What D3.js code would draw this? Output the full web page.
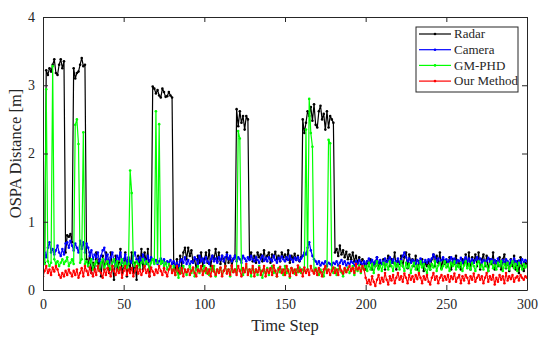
<!DOCTYPE html>
<html>
<head>
<meta charset="utf-8">
<script src="https://cdn.jsdelivr.net/npm/d3@7"></script>
<style>
  body { margin: 0; background: #fff; }
  text { font-family: "Liberation Serif", "DejaVu Serif", serif; fill: #262626; }
</style>
</head>
<body>
<div id="chart"></div>
<script>
// series values, one per time step 0..300
var radar = [
  0.45, 0.40, 3.22, 3.15, 3.25, 3.20, 3.30, 3.38, 3.18, 3.15,
  3.30, 3.38, 3.25, 3.35, 0.55, 0.80, 0.78, 0.82, 0.70, 3.25,
  3.10, 3.18, 3.20, 3.30, 3.40, 3.28, 3.30, 0.45, 0.35, 0.55,
  0.25, 0.40, 0.30, 0.55, 0.35, 0.45, 0.20, 0.50, 0.30, 0.55,
  0.40, 0.25, 0.55, 0.35, 0.15, 0.50, 0.30, 0.40, 0.60, 0.25,
  0.35, 0.55, 0.20, 0.45, 0.30, 0.55, 0.25, 0.40, 0.15, 0.50,
  0.35, 0.60, 0.30, 0.55, 0.40, 0.60, 0.20, 0.45, 2.98, 2.95,
  2.88, 2.93, 2.85, 2.82, 2.95, 2.90, 2.83, 2.84, 2.90, 2.85,
  2.82, 0.40, 0.30, 0.45, 0.25, 0.50, 0.35, 0.55, 0.62, 0.45,
  0.62, 0.50, 0.58, 0.40, 0.45, 0.30, 0.50, 0.40, 0.55, 0.35,
  0.45, 0.55, 0.40, 0.58, 0.35, 0.50, 0.45, 0.60, 0.42, 0.55,
  0.38, 0.50, 0.45, 0.35, 0.55, 0.40, 0.48, 0.35, 0.45, 0.50,
  2.65, 2.40, 2.62, 2.45, 2.55, 2.35, 2.55, 2.50, 0.45, 0.55,
  0.42, 0.50, 0.40, 0.55, 0.48, 0.52, 0.42, 0.58, 0.45, 0.50,
  0.55, 0.40, 0.52, 0.48, 0.56, 0.45, 0.50, 0.42, 0.55, 0.48,
  0.52, 0.45, 0.58, 0.40, 0.50, 0.46, 0.53, 0.44, 0.50, 0.42,
  0.48, 2.50, 2.30, 2.45, 2.62, 2.55, 2.68, 2.48, 2.72, 2.42,
  2.38, 2.62, 2.70, 2.50, 2.58, 2.35, 2.62, 2.38, 2.55, 2.50,
  2.45, 0.55, 0.60, 0.50, 0.65, 0.52, 0.58, 0.48, 0.56, 0.45,
  0.52, 0.45, 0.55, 0.42, 0.50, 0.40, 0.48, 0.38, 0.45, 0.40,
  0.30, 0.42, 0.35, 0.45, 0.30, 0.40, 0.35, 0.48, 0.32, 0.40,
  0.38, 0.45, 0.30, 0.42, 0.50, 0.35, 0.45, 0.40, 0.55, 0.30,
  0.42, 0.38, 0.50, 0.35, 0.48, 0.55, 0.32, 0.52, 0.40, 0.45,
  0.35, 0.50, 0.30, 0.42, 0.38, 0.45, 0.28, 0.40, 0.35, 0.42,
  0.30, 0.45, 0.52, 0.35, 0.50, 0.40, 0.55, 0.32, 0.45, 0.38,
  0.42, 0.35, 0.48, 0.30, 0.45, 0.38, 0.50, 0.35, 0.42, 0.30,
  0.45, 0.38, 0.52, 0.35, 0.55, 0.30, 0.48, 0.40, 0.52, 0.35,
  0.55, 0.30, 0.45, 0.52, 0.35, 0.50, 0.28, 0.45, 0.38, 0.55,
  0.30, 0.42, 0.35, 0.48, 0.30, 0.45, 0.52, 0.32, 0.40, 0.28,
  0.45, 0.35, 0.50, 0.30, 0.42, 0.25, 0.48, 0.35, 0.28, 0.40,
  0.38
];
var camera = [
  0.50, 0.55, 0.48, 0.62, 0.70, 0.55, 0.60, 0.52, 0.58, 0.65,
  0.55, 0.50, 0.60, 0.52, 0.68, 0.70, 0.62, 0.72, 0.65, 0.58,
  0.68, 0.62, 0.55, 0.72, 0.60, 0.70, 0.55, 0.68, 0.62, 0.50,
  0.58, 0.45, 0.52, 0.48, 0.55, 0.42, 0.50, 0.58, 0.62, 0.45,
  0.52, 0.40, 0.48, 0.55, 0.42, 0.38, 0.50, 0.45, 0.55, 0.40,
  0.45, 0.52, 0.38, 0.48, 0.42, 0.40, 0.50, 0.55, 0.45, 0.42,
  0.48, 0.40, 0.52, 0.45, 0.38, 0.50, 0.42, 0.48, 0.45, 0.40,
  0.44, 0.38, 0.42, 0.46, 0.40, 0.45, 0.38, 0.42, 0.40, 0.44,
  0.38, 0.42, 0.36, 0.40, 0.35, 0.42, 0.45, 0.40, 0.48, 0.38,
  0.44, 0.36, 0.42, 0.40, 0.48, 0.45, 0.38, 0.50, 0.42, 0.46,
  0.40, 0.48, 0.42, 0.38, 0.45, 0.50, 0.42, 0.46, 0.40, 0.48,
  0.44, 0.50, 0.42, 0.48, 0.52, 0.45, 0.50, 0.42, 0.46, 0.50,
  0.42, 0.48, 0.45, 0.40, 0.50, 0.46, 0.42, 0.48, 0.44, 0.50,
  0.45, 0.42, 0.48, 0.44, 0.40, 0.46, 0.50, 0.43, 0.47, 0.42,
  0.48, 0.45, 0.42, 0.50, 0.44, 0.40, 0.47, 0.43, 0.49, 0.45,
  0.42, 0.48, 0.44, 0.50, 0.45, 0.41, 0.47, 0.44, 0.48, 0.43,
  0.46, 0.50, 0.55, 0.52, 0.62, 0.70, 0.58, 0.50, 0.45, 0.42,
  0.38, 0.42, 0.36, 0.40, 0.38, 0.42, 0.35, 0.40, 0.38, 0.36,
  0.40, 0.38, 0.42, 0.36, 0.40, 0.44, 0.38, 0.42, 0.36, 0.40,
  0.38, 0.42, 0.40, 0.36, 0.42, 0.38, 0.44, 0.40, 0.37, 0.42,
  0.38, 0.42, 0.46, 0.40, 0.44, 0.38, 0.42, 0.48, 0.40, 0.44,
  0.38, 0.42, 0.46, 0.40, 0.44, 0.48, 0.40, 0.45, 0.38, 0.42,
  0.46, 0.40, 0.44, 0.50, 0.55, 0.48, 0.42, 0.46, 0.40, 0.44,
  0.42, 0.38, 0.44, 0.40, 0.46, 0.42, 0.38, 0.44, 0.40, 0.45,
  0.42, 0.46, 0.52, 0.48, 0.42, 0.46, 0.40, 0.44, 0.48, 0.42,
  0.45, 0.40, 0.44, 0.48, 0.42, 0.46, 0.40, 0.44, 0.42, 0.47,
  0.40, 0.44, 0.48, 0.42, 0.46, 0.41, 0.45, 0.40, 0.44, 0.48,
  0.42, 0.46, 0.40, 0.44, 0.38, 0.43, 0.47, 0.41, 0.45, 0.40,
  0.44, 0.40, 0.46, 0.42, 0.38, 0.44, 0.40, 0.45, 0.42, 0.38,
  0.44, 0.40, 0.46, 0.42, 0.38, 0.43, 0.40, 0.45, 0.41, 0.44,
  0.42
];
var gmphd = [
  0.40, 0.38, 2.94, 0.42, 0.35, 0.40, 3.28, 0.45, 0.38, 0.42,
  0.35, 0.40, 0.45, 0.38, 0.42, 0.48, 0.35, 0.40, 0.45, 0.38,
  2.42, 2.50, 2.14, 0.40, 0.45, 2.31, 0.38, 0.42, 0.35, 0.40,
  0.45, 0.30, 0.38, 0.42, 0.35, 0.28, 0.40, 0.45, 0.32, 0.38,
  0.42, 0.35, 0.30, 0.40, 0.45, 0.35, 0.42, 0.30, 0.38, 0.45,
  0.35, 0.40, 0.32, 0.38, 1.75, 1.42, 0.40, 0.35, 0.42, 0.38,
  0.32, 0.40, 0.45, 0.35, 0.42, 0.38, 0.30, 0.40, 0.45, 0.38,
  2.62, 0.40, 2.43, 0.38, 0.42, 0.35, 0.40, 0.30, 0.38, 0.35,
  0.28, 0.35, 0.22, 0.30, 0.18, 0.32, 0.25, 0.35, 0.28, 0.22,
  0.30, 0.35, 0.25, 0.32, 0.20, 0.30, 0.35, 0.25, 0.32, 0.28,
  0.35, 0.25, 0.30, 0.22, 0.32, 0.28, 0.35, 0.20, 0.30, 0.26,
  0.32, 0.22, 0.28, 0.35, 0.25, 0.30, 0.20, 0.32, 0.27, 0.30,
  0.25, 2.33, 2.22, 0.30, 0.22, 0.28, 0.35, 0.25, 0.30, 0.20,
  0.32, 0.26, 0.30, 0.22, 0.35, 0.28, 0.18, 0.30, 0.25, 0.32,
  0.22, 0.30, 0.35, 0.25, 0.28, 0.20, 0.32, 0.26, 0.30, 0.22,
  0.35, 0.25, 0.30, 0.18, 0.32, 0.28, 0.24, 0.30, 0.26, 0.33,
  0.25, 0.30, 0.28, 2.35, 0.30, 2.80, 2.30, 2.10, 0.25, 0.32,
  0.28, 0.22, 0.30, 0.26, 0.20, 0.32, 0.28, 2.20, 2.15, 0.30,
  0.25, 0.32, 0.22, 0.30, 0.35, 0.26, 0.20, 0.30, 0.28, 0.33,
  0.25, 0.30, 0.35, 0.22, 0.32, 0.28, 0.36, 0.25, 0.33, 0.30,
  0.35, 0.28, 0.40, 0.30, 0.38, 0.25, 0.35, 0.42, 0.30, 0.36,
  0.28, 0.40, 0.33, 0.38, 0.30, 0.42, 0.35, 0.28, 0.40, 0.34,
  0.38, 0.30, 0.42, 0.35, 0.28, 0.40, 0.33, 0.38, 0.25, 0.35,
  0.40, 0.30, 0.36, 0.28, 0.42, 0.33, 0.38, 0.30, 0.25, 0.35,
  0.30, 0.38, 0.33, 0.42, 0.28, 0.36, 0.40, 0.30, 0.35, 0.42,
  0.33, 0.38, 0.28, 0.40, 0.35, 0.42, 0.30, 0.37, 0.33, 0.40,
  0.28, 0.36, 0.42, 0.32, 0.38, 0.30, 0.40, 0.35, 0.28, 0.38,
  0.42, 0.33, 0.37, 0.30, 0.40, 0.35, 0.28, 0.38, 0.42, 0.32,
  0.36, 0.30, 0.40, 0.35, 0.42, 0.28, 0.38, 0.33, 0.40, 0.30,
  0.36, 0.42, 0.32, 0.38, 0.28, 0.40, 0.35, 0.30, 0.38, 0.33,
  0.36
];
var ourMethod = [
  0.20, 0.28, 0.35, 0.25, 0.30, 0.22, 0.33, 0.27, 0.35, 0.30,
  0.22, 0.18, 0.25, 0.20, 0.28, 0.22, 0.30, 0.25, 0.20, 0.28,
  0.22, 0.30, 0.18, 0.25, 0.32, 0.20, 0.35, 0.28, 0.22, 0.33,
  0.25, 0.20, 0.30, 0.22, 0.35, 0.28, 0.25, 0.18, 0.30, 0.22,
  0.32, 0.26, 0.20, 0.35, 0.28, 0.22, 0.30, 0.25, 0.33, 0.18,
  0.28, 0.35, 0.22, 0.30, 0.25, 0.32, 0.20, 0.28, 0.35, 0.24,
  0.30, 0.22, 0.28, 0.35, 0.25, 0.30, 0.20, 0.33, 0.27, 0.22,
  0.30, 0.25, 0.35, 0.28, 0.22, 0.32, 0.26, 0.20, 0.30, 0.35,
  0.25, 0.30, 0.22, 0.35, 0.28, 0.24, 0.32, 0.20, 0.30, 0.26,
  0.30, 0.22, 0.28, 0.33, 0.25, 0.20, 0.30, 0.27, 0.35, 0.22,
  0.28, 0.32, 0.24, 0.30, 0.20, 0.35, 0.27, 0.22, 0.30, 0.25,
  0.33, 0.20, 0.28, 0.35, 0.24, 0.30, 0.22, 0.36, 0.26, 0.30,
  0.22, 0.35, 0.28, 0.20, 0.32, 0.26, 0.38, 0.22, 0.30, 0.25,
  0.35, 0.20, 0.30, 0.26, 0.33, 0.22, 0.28, 0.35, 0.20, 0.30,
  0.25, 0.32, 0.22, 0.36, 0.28, 0.20, 0.30, 0.34, 0.25, 0.30,
  0.22, 0.35, 0.28, 0.20, 0.32, 0.25, 0.30, 0.22, 0.36, 0.27,
  0.30, 0.20, 0.33, 0.25, 0.30, 0.22, 0.35, 0.28, 0.24, 0.30,
  0.22, 0.32, 0.26, 0.20, 0.30, 0.35, 0.25, 0.30, 0.22, 0.28,
  0.33, 0.25, 0.30, 0.22, 0.35, 0.28, 0.24, 0.32, 0.26, 0.30,
  0.35, 0.28, 0.32, 0.25, 0.38, 0.30, 0.33, 0.27, 0.35, 0.30,
  0.18, 0.10, 0.15, 0.08, 0.20, 0.12, 0.06, 0.15, 0.22, 0.10,
  0.18, 0.12, 0.25, 0.15, 0.08, 0.20, 0.14, 0.22, 0.10, 0.18,
  0.25, 0.15, 0.20, 0.12, 0.24, 0.18, 0.10, 0.22, 0.15, 0.20,
  0.12, 0.22, 0.16, 0.25, 0.18, 0.10, 0.20, 0.15, 0.22, 0.12,
  0.08, 0.18, 0.25, 0.15, 0.20, 0.10, 0.18, 0.22, 0.14, 0.20,
  0.15, 0.22, 0.12, 0.20, 0.16, 0.24, 0.12, 0.18, 0.22, 0.10,
  0.20, 0.14, 0.22, 0.18, 0.10, 0.20, 0.15, 0.24, 0.12, 0.18,
  0.22, 0.15, 0.20, 0.10, 0.18, 0.25, 0.12, 0.20, 0.15, 0.22,
  0.08, 0.18, 0.12, 0.22, 0.15, 0.20, 0.10, 0.25, 0.14, 0.20,
  0.16, 0.22, 0.12, 0.18, 0.20, 0.14, 0.22, 0.18, 0.15, 0.20,
  0.18
];

var seriesNames = ["Radar", "Camera", "GM-PHD", "Our Method"];
var seriesColors = ["#000000", "#0000ff", "#00ff00", "#ff0000"];
var xTicks = [0, 50, 100, 150, 200, 250, 300];
var yTicks = [0, 1, 2, 3, 4];

var allSeries = [radar, camera, gmphd, ourMethod];

var width = 550, height = 342;
// plot box edges (note: "top" is a reserved window property)
var plotLeft = 43, plotRight = 527, plotTop = 17, plotBottom = 290;

var svg = d3.select("#chart").append("svg")
  .attr("width", width)
  .attr("height", height);

var x = d3.scaleLinear().domain([0, 300]).range([plotLeft, plotRight]);
var y = d3.scaleLinear().domain([0, 4]).range([plotBottom, plotTop]);

// plot area clip
svg.append("clipPath").attr("id", "clip")
  .append("rect")
  .attr("x", plotLeft).attr("y", plotTop)
  .attr("width", plotRight - plotLeft).attr("height", plotBottom - plotTop);

var line = d3.line()
  .x(function(d, i) { return x(i); })
  .y(function(d) { return y(d); });

var plot = svg.append("g").attr("clip-path", "url(#clip)");

// draw each series with small dot markers
allSeries.forEach(function(vals, k) {
  plot.append("path")
    .datum(vals)
    .attr("fill", "none")
    .attr("stroke", seriesColors[k])
    .attr("stroke-width", 1.2)
    .attr("stroke-linejoin", "round")
    .attr("d", line);
  plot.selectAll(null)
    .data(vals)
    .enter().append("circle")
    .attr("cx", function(d, i) { return x(i); })
    .attr("cy", function(d) { return y(d); })
    .attr("r", 1.3)
    .attr("fill", seriesColors[k]);
});

// box axes, ticks inside
var axisColor = "#262626";
svg.append("g")
  .attr("transform", "translate(0," + plotBottom + ")")
  .call(d3.axisBottom(x).tickValues(xTicks).tickSizeInner(-5).tickSizeOuter(0).tickPadding(9))
  .call(function(g) {
    g.selectAll("text").attr("font-size", 14).attr("font-family", "Liberation Serif").attr("fill", axisColor);
  });
svg.append("g")
  .attr("transform", "translate(0," + plotTop + ")")
  .call(d3.axisTop(x).tickValues(xTicks).tickSizeInner(-5).tickSizeOuter(0).tickFormat(""));
svg.append("g")
  .attr("transform", "translate(" + plotLeft + ",0)")
  .call(d3.axisLeft(y).tickValues(yTicks).tickFormat(d3.format("d")).tickSizeInner(-5).tickSizeOuter(0).tickPadding(8))
  .call(function(g) {
    g.selectAll("text").attr("font-size", 14).attr("font-family", "Liberation Serif").attr("fill", axisColor);
  });
svg.append("g")
  .attr("transform", "translate(" + plotRight + ",0)")
  .call(d3.axisRight(y).tickValues(yTicks).tickSizeInner(-5).tickSizeOuter(0).tickFormat(""));

svg.selectAll(".domain").attr("stroke", axisColor);
svg.selectAll(".tick line").attr("stroke", axisColor);

// axis titles
svg.append("text")
  .attr("x", (plotLeft + plotRight) / 2)
  .attr("y", 331)
  .attr("text-anchor", "middle")
  .attr("font-size", 16.5)
  .text("Time Step");

svg.append("text")
  .attr("transform", "translate(21," + ((plotTop + plotBottom) / 2) + ") rotate(-90)")
  .attr("text-anchor", "middle")
  .attr("font-size", 16.5)
  .text("OSPA Distance [m]");

// legend
var legend = svg.append("g");
legend.append("rect")
  .attr("x", 416).attr("y", 27)
  .attr("width", 102).attr("height", 65)
  .attr("fill", "#fff")
  .attr("stroke", axisColor)
  .attr("stroke-width", 1);

seriesNames.forEach(function(name, k) {
  var ly = 34 + k * 15.7;
  legend.append("line")
    .attr("x1", 419).attr("x2", 451)
    .attr("y1", ly).attr("y2", ly)
    .attr("stroke", seriesColors[k])
    .attr("stroke-width", 1.2);
  legend.append("circle")
    .attr("cx", 435).attr("cy", ly).attr("r", 1.3)
    .attr("fill", seriesColors[k]);
  legend.append("text")
    .attr("x", 454).attr("y", ly + 4.3)
    .attr("font-size", 13)
    .text(name);
});
</script>
</body>
</html>
